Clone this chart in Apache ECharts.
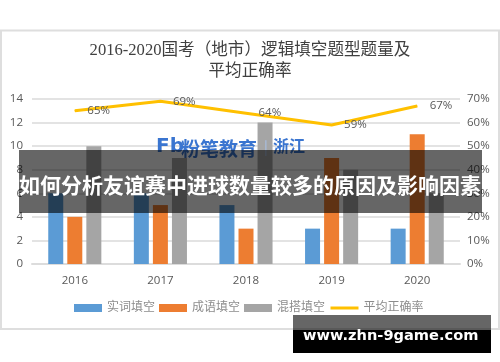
<!DOCTYPE html>
<html>
<head>
<meta charset="utf-8">
<style>
  html, body { margin: 0; padding: 0; background: #fff; }
  #chart { width: 500px; height: 362px; }
</style>
<script src="https://cdn.jsdelivr.net/npm/echarts@6/dist/echarts.min.js"></script>
</head>
<body>
<div id="chart"></div>
<script>
const years = ['2016', '2017', '2018', '2019', '2020'];
const shici = [6, 6, 5, 3, 3];
const chengyu = [4, 5, 3, 9, 11];
const hunda = [10, 9, 12, 8, 6];
const accuracy = [65, 69, 64, 59, 67];

const serif = '"Liberation Serif", "Noto Sans CJK SC", serif';
const sans = '"Open Sans", "Noto Sans CJK SC", sans-serif';
const cjk = '"Noto Sans CJK SC", sans-serif';
const gridLine = { lineStyle: { color: '#e3e3e3', width: 2 } };

const chart = echarts.init(document.getElementById('chart'), undefined, { renderer: 'canvas' });

chart.setOption({
  animation: false,
  backgroundColor: '#fff',
  title: {
    text: '2016-2020国考（地市）逻辑填空题型题量及\n平均正确率',
    left: 245,
    top: 35,
    textAlign: 'center',
    textStyle: { color: '#404040', fontSize: 16.6, fontWeight: 'normal', fontFamily: serif, lineHeight: 21 },
  },
  legend: {
    left: 69,
    top: 297,
    itemWidth: 28,
    itemHeight: 8,
    itemGap: 4,
    textStyle: { color: '#8c8c8c', fontSize: 12, fontFamily: serif },
    data: [
      { name: '实词填空', icon: 'rect' },
      { name: '成语填空', icon: 'rect' },
      { name: '混搭填空', icon: 'rect' },
      { name: '平均正确率', itemStyle: { opacity: 0 }, lineStyle: { color: '#ffc000', width: 3 } },
    ],
  },
  grid: { left: 32, right: 40, top: 99, bottom: 98 },
  xAxis: {
    type: 'category',
    data: years,
    axisTick: { show: false },
    axisLine: { lineStyle: { color: '#dcdcdc', width: 2 } },
    axisLabel: { color: '#595959', fontSize: 11.5, fontFamily: sans, margin: 11 },
  },
  yAxis: [
    {
      type: 'value',
      min: 0,
      max: 14,
      interval: 2,
      axisLine: { show: false },
      axisTick: { show: false },
      splitLine: gridLine,
      axisLabel: { color: '#595959', fontSize: 11.5, fontFamily: sans, margin: 9 },
    },
    {
      type: 'value',
      min: 0,
      max: 70,
      interval: 10,
      axisLine: { show: false },
      axisTick: { show: false },
      splitLine: { show: false },
      axisLabel: { color: '#595959', fontSize: 11.5, fontFamily: sans, margin: 7, formatter: '{value}%' },
    },
  ],
  series: [
    { name: '实词填空', type: 'bar', data: shici, barWidth: 15, barGap: '27%', itemStyle: { color: '#5b9bd5' } },
    { name: '成语填空', type: 'bar', data: chengyu, barWidth: 15, barGap: '27%', itemStyle: { color: '#ed7d31' } },
    { name: '混搭填空', type: 'bar', data: hunda, barWidth: 15, barGap: '27%', itemStyle: { color: '#a5a5a5' } },
    {
      name: '平均正确率',
      type: 'line',
      yAxisIndex: 1,
      data: accuracy,
      symbol: 'circle',
      symbolSize: 1,
      showSymbol: true,
      lineStyle: { color: '#ffc000', width: 3 },
      itemStyle: { color: '#ffc000' },
      z: 5,
      label: {
        show: true,
        position: 'right',
        distance: 12,
        formatter: '{c}%',
        color: '#595959',
        fontSize: 11.5,
        fontFamily: sans,
      },
    },
  ],
  graphic: [
    // card border
    { type: 'rect', z: 0, silent: true, shape: { x: 1, y: 30.5, width: 498, height: 298.5 }, style: { fill: 'none', stroke: '#dedede', lineWidth: 2 } },
    // watermark
    { type: 'text', z: 20, silent: true, left: 156, top: 137, style: { text: 'Fb', fill: '#3a75d0', font: 'bold 20px "DejaVu Sans", sans-serif' } },
    { type: 'text', z: 20, silent: true, left: 181, top: 139, style: { text: '粉笔教育', fill: '#3a75d0', font: 'bold 19px ' + cjk } },
    { type: 'text', z: 20, silent: true, left: 264, top: 140, style: { text: '|', fill: '#a9c4ec', font: '14px ' + cjk } },
    { type: 'text', z: 20, silent: true, left: 273, top: 138, style: { text: '浙江', fill: '#3a75d0', font: 'bold 16px ' + cjk } },
    // title banner
    { type: 'rect', z: 30, silent: true, shape: { x: 19, y: 150, width: 463, height: 63 }, style: { fill: 'rgba(0,0,0,0.6)' } },
    { type: 'text', z: 31, silent: true, left: 19, top: 175, style: { text: '如何分析友谊赛中进球数量较多的原因及影响因素', fill: '#fff', font: 'bold 21px ' + cjk } },
    // site stamp
    { type: 'rect', z: 30, silent: true, shape: { x: 293, y: 315, width: 198, height: 15 }, style: { fill: 'rgba(0,0,0,0.6)' } },
    { type: 'rect', z: 30, silent: true, shape: { x: 293, y: 330, width: 198, height: 23 }, style: { fill: '#000' } },
    { type: 'text', z: 31, silent: true, left: 303, top: 329, style: { text: 'www.zhn-9game.com', fill: '#fff', font: 'bold 14.6px "DejaVu Sans", sans-serif' } },
  ],
});

window.addEventListener('resize', () => chart.resize());
</script>
</body>
</html>
